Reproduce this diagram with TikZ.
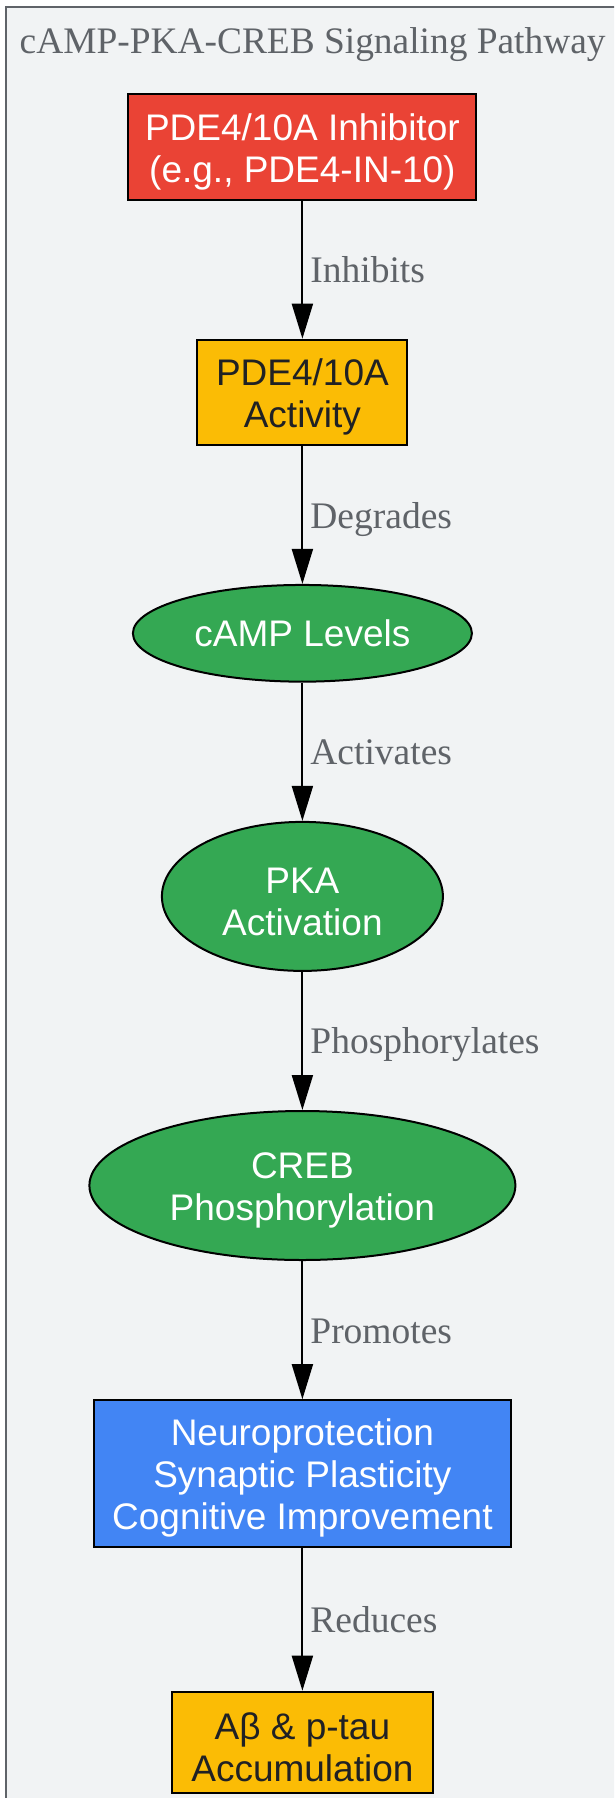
\documentclass[tikz,border=0pt]{standalone}
\usepackage{fontspec}
\setmainfont{Liberation Serif}
\newfontfamily\nodefont{Liberation Sans}
\usetikzlibrary{arrows.meta,shapes.geometric}
\definecolor{gred}{HTML}{EA4335}
\definecolor{gorange}{HTML}{FBBC05}
\definecolor{ggreen}{HTML}{34A853}
\definecolor{gblue}{HTML}{4285F4}
\definecolor{gbg}{HTML}{F1F3F4}
\definecolor{ggray}{HTML}{5F6368}
\definecolor{gdark}{HTML}{202124}
\newcommand\topstrut{\rule{0pt}{36pt}}
\tikzset{
  base/.style={draw=black, line width=2pt, inner sep=0pt, align=center,
    font=\nodefont\fontsize{37}{42}\selectfont},
  boxnode/.style={base, rectangle},
  ellnode/.style={base, ellipse},
  conn/.style={line width=2pt, -{Triangle[length=35pt,width=21pt]}},
  elabel/.style={anchor=base west, inner sep=0pt, xshift=7pt, yshift=-13pt,
    text=ggray, font=\fontsize{37.5}{42}\selectfont},
}
\begin{document}
\begin{tikzpicture}[x=1pt,y=-1pt]
\useasboundingbox (0,0) rectangle (614,1798);
\clip (0,0) rectangle (614,1798);
\fill[white] (0,0) rectangle (614,1798);
\draw[fill=gbg, draw=ggray, line width=2pt] (5.7,7) rectangle (640,1830);
\node[anchor=base west, inner sep=0pt, text=ggray, font=\fontsize{37.4}{42}\selectfont] (title) at (19.5,54) {cAMP-PKA-CREB Signaling Pathway};

\node[boxnode, fill=gred, text=white, minimum width=348pt, minimum height=106pt] (n1) at (302.4,147) {\topstrut PDE4/10A Inhibitor\\(e.g., PDE4-IN-10)};
\node[boxnode, fill=gorange, text=gdark, minimum width=210pt, minimum height=105.6pt] (n2) at (302.4,392.5) {\topstrut PDE4/10A\\Activity};
\node[ellnode, fill=ggreen, text=white, minimum width=339pt, minimum height=96.7pt] (n3) at (302.4,633.3) {cAMP Levels};
\node[ellnode, fill=ggreen, text=white, minimum width=281pt, minimum height=149pt] (n4) at (302.4,896.4) {\topstrut PKA\\Activation};
\node[ellnode, fill=ggreen, text=white, minimum width=426pt, minimum height=149pt] (n5) at (302.4,1185.5) {\topstrut CREB\\Phosphorylation};
\node[boxnode, fill=gblue, text=white, minimum width=417pt, minimum height=147pt] (n6) at (302.4,1473.7) {\topstrut Neuroprotection\\Synaptic Plasticity\\Cognitive Improvement};
\node[boxnode, fill=gorange, text=gdark, minimum width=261pt, minimum height=101pt] (n7) at (302.4,1742.2) {\topstrut Aβ \& p-tau\\Accumulation};

\draw[conn] (n1) -- node[elabel] {Inhibits} (n2);
\draw[conn] (n2) -- node[elabel] {Degrades} (n3);
\draw[conn] (n3) -- node[elabel] {Activates} (n4);
\draw[conn] (n4) -- node[elabel] {Phosphorylates} (n5);
\draw[conn] (n5) -- node[elabel] {Promotes} (n6);
\draw[conn] (n6) -- node[elabel] {Reduces} (n7);
\end{tikzpicture}
\end{document}
